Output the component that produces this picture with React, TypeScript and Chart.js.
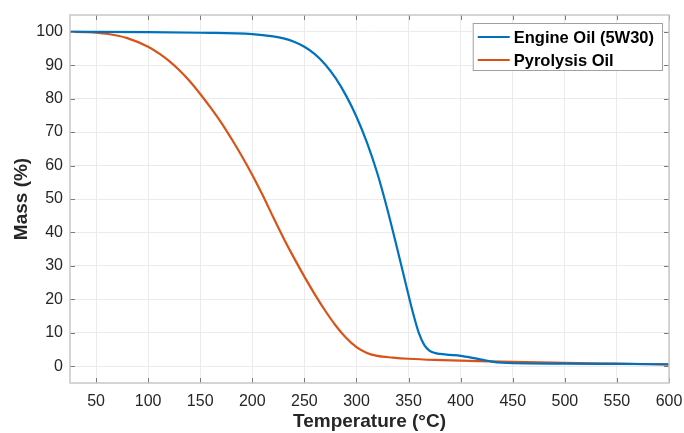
import React, { useEffect, useRef } from "react";
import { Chart, registerables } from "chart.js";

Chart.register(...registerables);

const engineTemps = [25, 100, 150, 200, 220, 230, 240, 250, 260, 270, 280, 290, 300, 310, 320, 330, 340, 350, 355, 360, 365, 370, 375, 380, 390, 400, 410, 420, 430, 440, 450, 500, 550, 600];
const engineMass = [100, 99.9, 99.7, 99.3, 98.6, 98.0, 97.0, 95.5, 93.3, 90.2, 86.1, 80.9, 74.6, 66.9, 57.7, 46.5, 34.0, 21.2, 15.1, 9.8, 6.4, 4.7, 4.0, 3.7, 3.4, 3.1, 2.6, 2.0, 1.4, 1.05, 0.9, 0.8, 0.7, 0.6];

const pyroTemps = [25, 40, 60, 80, 100, 110, 120, 130, 140, 150, 160, 170, 180, 190, 200, 210, 220, 230, 240, 250, 260, 270, 280, 290, 300, 310, 320, 335, 350, 375, 400, 450, 500, 550, 600];
const pyroMass = [100, 99.9, 99.4, 98.1, 95.5, 93.6, 91.3, 88.5, 85.2, 81.4, 77.3, 72.9, 68.0, 62.8, 57.2, 51.1, 44.6, 38.3, 32.4, 26.8, 21.5, 16.6, 12.2, 8.5, 5.7, 4.0, 3.1, 2.6, 2.25, 1.9, 1.7, 1.3, 1.0, 0.8, 0.5];

const xTicks = [50, 100, 150, 200, 250, 300, 350, 400, 450, 500, 550, 600];
const yTicks = [0, 10, 20, 30, 40, 50, 60, 70, 80, 90, 100];

const seriesNames = ["Engine Oil (5W30)", "Pyrolysis Oil"];
const seriesColors = ["#0072BD", "#D95319"];

const FONT = "'Liberation Sans', Arial, Helvetica, sans-serif";

const innerTicks = {
  id: "innerTicks",
  afterDatasetsDraw(chart: any) {
    const { ctx, chartArea: a, scales } = chart;
    ctx.save();
    ctx.strokeStyle = "#7a7a7a";
    ctx.lineWidth = 1;
    const L = 5;
    ctx.beginPath();
    for (const v of xTicks) {
      const px = Math.round(scales.x.getPixelForValue(v)) + 0.5;
      ctx.moveTo(px, a.bottom);
      ctx.lineTo(px, a.bottom - L);
      ctx.moveTo(px, a.top);
      ctx.lineTo(px, a.top + L);
    }
    for (const v of yTicks) {
      const py = Math.round(scales.y.getPixelForValue(v)) + 0.5;
      ctx.moveTo(a.left, py);
      ctx.lineTo(a.left + L, py);
      ctx.moveTo(a.right, py);
      ctx.lineTo(a.right - L, py);
    }
    ctx.stroke();
    ctx.strokeStyle = "#c8c8c8";
    ctx.lineWidth = 1.5;
    ctx.strokeRect(a.left, a.top, a.right - a.left, a.bottom - a.top);
    ctx.restore();
  },
};

const boxLegend = {
  id: "boxLegend",
  afterDraw(chart: any) {
    const { ctx, chartArea: a } = chart;
    ctx.save();
    ctx.font = `bold 16.5px ${FONT}`;
    const textW = Math.max(...seriesNames.map((n) => ctx.measureText(n).width));
    const lineLen = 32;
    const boxW = 5 + lineLen + 4 + textW + 8;
    const boxH = 47;
    const right = a.right - 7;
    const left = right - boxW;
    const top = a.top + 8;
    ctx.fillStyle = "#ffffff";
    ctx.fillRect(left, top, boxW, boxH);
    ctx.strokeStyle = "#a0a0a0";
    ctx.lineWidth = 1;
    ctx.strokeRect(left + 0.5, top + 0.5, boxW, boxH);
    seriesNames.forEach((name, i) => {
      const cy = top + 14 + i * 23;
      ctx.strokeStyle = seriesColors[i];
      ctx.lineWidth = 2;
      ctx.beginPath();
      ctx.moveTo(left + 5, cy);
      ctx.lineTo(left + 5 + lineLen, cy);
      ctx.stroke();
      ctx.fillStyle = "#000000";
      ctx.textBaseline = "middle";
      ctx.textAlign = "left";
      ctx.fillText(name, left + 5 + lineLen + 4, cy + 1);
    });
    ctx.restore();
  },
};

export default function App() {
  const ref = useRef<HTMLCanvasElement | null>(null);
  useEffect(() => {
    document.body.style.margin = "0";
    const chart = new Chart(ref.current as HTMLCanvasElement, {
      type: "line",
      data: {
        datasets: [
          {
            label: seriesNames[0],
            data: engineTemps.map((t, i) => ({ x: t, y: engineMass[i] })),
            borderColor: seriesColors[0],
            borderWidth: 2.2,
            pointRadius: 0,
            cubicInterpolationMode: "monotone",
            fill: false,
          },
          {
            label: seriesNames[1],
            data: pyroTemps.map((t, i) => ({ x: t, y: pyroMass[i] })),
            borderColor: seriesColors[1],
            borderWidth: 2.2,
            pointRadius: 0,
            cubicInterpolationMode: "monotone",
            fill: false,
          },
        ],
      },
      options: {
        animation: false,
        responsive: false,
        maintainAspectRatio: false,
        layout: { padding: { left: 0, right: 15, top: 15, bottom: 0 } },
        plugins: {
          legend: { display: false },
          tooltip: { enabled: false },
        },
        scales: {
          x: {
            type: "linear",
            min: 25,
            max: 600,
            afterBuildTicks: (s: any) => {
              s.ticks = xTicks.map((v) => ({ value: v }));
            },
            afterFit: (s: any) => {
              s.height = 50;
              s.paddingRight = 0;
              s.paddingLeft = 0;
            },
            grid: { color: "#ebebeb", drawTicks: false, lineWidth: 1 },
            border: { display: false },
            ticks: {
              color: "#262626",
              font: { family: FONT, size: 16 },
              padding: 9,
              maxRotation: 0,
              autoSkip: false,
            },
            title: {
              display: true,
              text: "Temperature (°C)",
              color: "#262626",
              font: { family: FONT, size: 19, weight: "bold" },
              padding: { top: 3, bottom: 0 },
            },
          },
          y: {
            type: "linear",
            min: -5,
            max: 105,
            afterBuildTicks: (s: any) => {
              s.ticks = yTicks.map((v) => ({ value: v }));
            },
            afterFit: (s: any) => {
              s.width = 70;
              s.paddingTop = 0;
              s.paddingBottom = 0;
            },
            grid: { color: "#ebebeb", drawTicks: false, lineWidth: 1 },
            border: { display: false },
            ticks: {
              color: "#262626",
              font: { family: FONT, size: 16 },
              padding: 7,
              autoSkip: false,
            },
            title: {
              display: true,
              text: "Mass (%)",
              color: "#262626",
              font: { family: FONT, size: 19, weight: "bold" },
              padding: { top: 10, bottom: 0 },
            },
          },
        },
      },
      plugins: [innerTicks, boxLegend],
    });
    return () => chart.destroy();
  }, []);
  return (
    <div style={{ width: 684, height: 433 }}>
      <canvas ref={ref} width={684} height={433} style={{ display: "block" }} />
    </div>
  );
}
